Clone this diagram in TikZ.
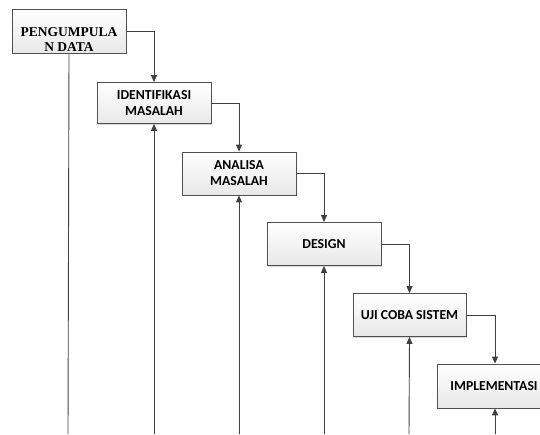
\documentclass[tikz,border=0pt]{standalone}
\usepackage{fontspec}
\setmainfont{Carlito}
\newfontfamily\serifb{Liberation Serif}
\usetikzlibrary{arrows.meta,shadows}
\definecolor{edge}{HTML}{505050}
\definecolor{wire}{HTML}{404040}
\tikzset{
  x=1pt,y=-1pt,
  stepbox/.style={draw=edge,line width=0.8pt,minimum width=114pt,minimum height=43pt,
    top color=white,bottom color=black!9,align=center,inner sep=1pt,
    font=\fontsize{13.7}{16}\selectfont\bfseries,
    drop shadow={shadow xshift=1.3pt,shadow yshift=-1.3pt,fill=black!25,opacity=0.6}},
  flow/.style={draw=wire,line width=0.9pt,-{Triangle[length=7pt,width=6pt]}},
  plain/.style={draw=wire,line width=0.9pt}
}
\begin{document}
\begin{tikzpicture}
\useasboundingbox (0,0) rectangle (540,434);
\node[stepbox,minimum height=44pt,font=\serifb\fontsize{13.5}{15}\selectfont\bfseries] (b1) at (69,31) {\raisebox{-13.5pt}[0pt][0pt]{\setlength{\tabcolsep}{0pt}\begin{tabular}{c}PENGUMPULA\\N DATA\end{tabular}}};
\node[stepbox,minimum height=41pt] (b2) at (154,103) {IDENTIFIKASI\\MASALAH};
\node[stepbox] (b3) at (239,173.5) {ANALISA\\MASALAH};
\node[stepbox] (b4) at (324,244) {DESIGN};
\node[stepbox,minimum width=113pt] (b5) at (409.5,315) {UJI COBA SISTEM};
\node[stepbox,minimum height=44pt] (b6) at (494,386) {IMPLEMENTASI};
\coordinate (e1) at (68,434);
\coordinate (e2) at (154,434);
\coordinate (e3) at (239,434);
\coordinate (e4) at (324,434);
\coordinate (e5) at (409,434);
\coordinate (e6) at (495,434);
\draw[flow] (b1.east) -| (b2.north);
\draw[flow] (b2.east) -| (b3.north);
\draw[flow] (b3.east) -| (b4.north);
\draw[flow] (b4.east) -| (b5.north);
\draw[flow] (b5.east) -| ([xshift=1pt]b6.north);
\draw[plain] (b1.south) -- (e1);
\draw[flow] (e2) -- (b2.south);
\draw[flow] (e3) -- (b3.south);
\draw[flow] (e4) -- (b4.south);
\draw[flow] (e5) -- (b5.south);
\draw[flow] (e6) -- ([xshift=1pt]b6.south);
\end{tikzpicture}
\end{document}
